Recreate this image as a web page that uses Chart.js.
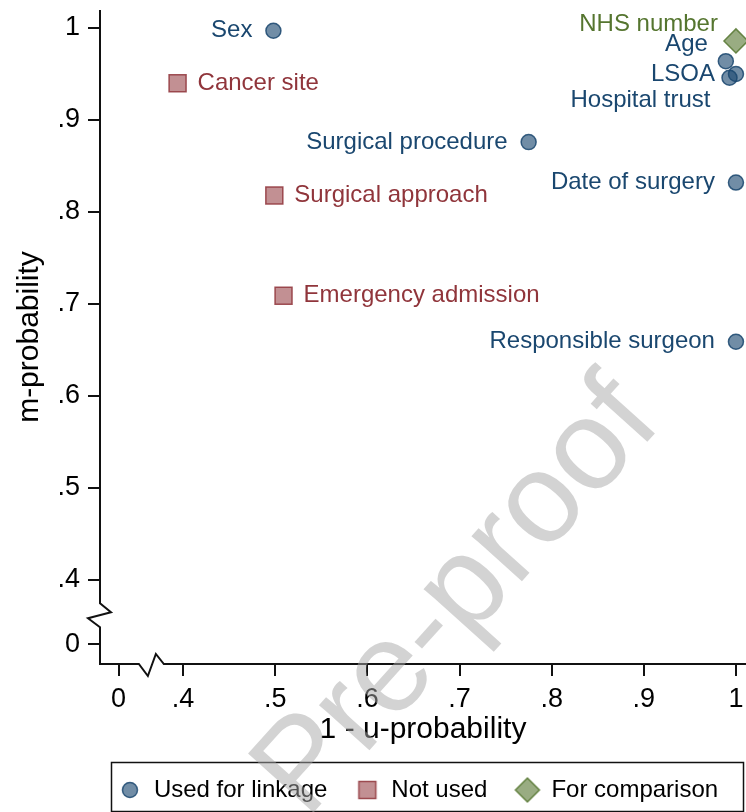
<!DOCTYPE html>
<html>
<head>
<meta charset="utf-8">
<script src="https://cdn.jsdelivr.net/npm/chart.js@4/dist/chart.umd.min.js"></script>
<style>
  html, body { margin: 0; padding: 0; background: #fff; }
  canvas { display: block; }
</style>
</head>
<body>
<canvas id="chart" width="746" height="812"></canvas>
<script>
// Used for linkage
const linkedNames = ["Sex", "Age", "LSOA", "Hospital trust", "Surgical procedure", "Date of surgery", "Responsible surgeon"];
const linkedU = [0.498, 0.989, 1.0, 0.993, 0.775, 1.0, 1.0];
const linkedM = [0.997, 0.964, 0.950, 0.946, 0.876, 0.832, 0.659];
const linkedPos = [9, 10, 9, 8, 9, 9, 9];

// Not used
const unusedNames = ["Cancer site", "Surgical approach", "Emergency admission"];
const unusedU = [0.394, 0.499, 0.509];
const unusedM = [0.940, 0.818, 0.709];
const unusedPos = [3, 3, 3];

// For comparison
const compareNames = ["NHS number"];
const compareU = [1.0];
const compareM = [0.986];
const comparePos = [10];

// broken axes: the "0" tick is drawn just below .4
const xTicks = [0.33, 0.4, 0.5, 0.6, 0.7, 0.8, 0.9, 1];
const xTickLabels = ["0", ".4", ".5", ".6", ".7", ".8", ".9", "1"];
const yTicks = [0.33, 0.4, 0.5, 0.6, 0.7, 0.8, 0.9, 1];
const yTickLabels = ["0", ".4", ".5", ".6", ".7", ".8", ".9", "1"];
const breakAt = 0.365;

const family = "'Liberation Sans', Arial, Helvetica, sans-serif";

const blue = "#1a476f", red = "#90353b", green = "#55752f";
const markers = [
  { style: "circle", radius: 7.5, fill: "rgba(26,71,111,0.62)", stroke: "rgba(26,71,111,0.85)" },
  { style: "rect", radius: 12, fill: "rgba(144,53,59,0.55)", stroke: "rgba(144,53,59,0.85)" },
  { style: "rectRot", radius: 12, fill: "rgba(85,117,47,0.6)", stroke: "rgba(85,117,47,0.85)" },
];

// label offsets by clock position (Stata style)
const clock = {
  3: { dx: 20, dy: 0, align: "left" },
  8: { dx: -19, dy: 23, align: "right" },
  9: { dx: -21, dy: 0, align: "right" },
  10: { dx: -18, dy: -17, align: "right" },
};

const toPoints = (us, ms) => us.map((u, i) => ({ x: u, y: ms[i] }));

// small canvas so the legend keys keep the same sizes as the plot markers
function markerImage(m) {
  const c = document.createElement("canvas");
  c.width = c.height = 30;
  const g = c.getContext("2d");
  g.fillStyle = m.fill;
  g.strokeStyle = m.stroke;
  g.lineWidth = 1.5;
  Chart.helpers.drawPoint(g, { pointStyle: m.style, radius: m.radius, borderWidth: 1.5, rotation: 0 }, 15, 15);
  return c;
}

const pointLabels = {
  id: "pointLabels",
  afterDatasetsDraw(chart) {
    const ctx = chart.ctx;
    ctx.save();
    ctx.font = "24px " + family;
    ctx.textBaseline = "middle";
    chart.data.datasets.forEach((ds, i) => {
      chart.getDatasetMeta(i).data.forEach((pt, j) => {
        const off = clock[ds.labelPos[j]];
        ctx.fillStyle = ds.labelColor;
        ctx.textAlign = off.align;
        ctx.fillText(ds.names[j], pt.x + off.dx, pt.y + off.dy);
      });
    });
    ctx.restore();
  },
};

const decorations = {
  id: "decorations",
  beforeDraw(chart) {
    // centre the legend row under the plot region, not the whole canvas
    const lg = chart.legend, ca = chart.chartArea;
    const shift = (ca.left + ca.right) / 2 - 5 - (lg.left + lg.right) / 2;
    lg.left += shift;
    lg.right += shift;
  },
  afterDraw(chart) {
    const { ctx, chartArea, scales, legend } = chart;
    const xb = scales.x.getPixelForValue(breakAt);
    const yb = scales.y.getPixelForValue(breakAt);
    const left = chartArea.left, bottom = chartArea.bottom;
    ctx.save();
    ctx.strokeStyle = "#111";
    ctx.lineWidth = 2;
    // y axis with zigzag
    ctx.beginPath();
    ctx.moveTo(left, chartArea.top);
    ctx.lineTo(left, yb - 9);
    ctx.lineTo(left + 11, yb);
    ctx.lineTo(left - 12, yb + 6);
    ctx.lineTo(left, yb + 15);
    ctx.lineTo(left, bottom);
    // x axis with zigzag
    ctx.lineTo(xb - 12, bottom);
    ctx.lineTo(xb - 3, bottom + 12);
    ctx.lineTo(xb + 5, bottom - 10);
    ctx.lineTo(xb + 13, bottom);
    ctx.lineTo(chartArea.right, bottom);
    ctx.stroke();

    // legend frame
    ctx.lineWidth = 1.5;
    ctx.strokeRect(left + 11.5, legend.top + 12.5, chartArea.right - left - 14, legend.bottom - legend.top - 13);

    // watermark, translucent grey over everything
    ctx.translate(485, 622);
    ctx.rotate(-48 * Math.PI / 180);
    ctx.font = "128px " + family;
    ctx.fillStyle = "rgba(168,168,168,0.5)";
    ctx.textAlign = "center";
    ctx.textBaseline = "alphabetic";
    ctx.fillText("Pre-proof", 0, 0);
    ctx.restore();
  },
};

const legendKeys = markers.map(markerImage);

new Chart(document.getElementById("chart"), {
  type: "scatter",
  data: {
    datasets: [
      {
        label: "Used for linkage",
        data: toPoints(linkedU, linkedM),
        names: linkedNames,
        labelPos: linkedPos,
        labelColor: blue,
        pointStyle: markers[0].style,
        pointRadius: markers[0].radius,
        backgroundColor: markers[0].fill,
        borderColor: markers[0].stroke,
        borderWidth: 1.5,
        clip: false,
      },
      {
        label: "Not used",
        data: toPoints(unusedU, unusedM),
        names: unusedNames,
        labelPos: unusedPos,
        labelColor: red,
        pointStyle: markers[1].style,
        pointRadius: markers[1].radius,
        backgroundColor: markers[1].fill,
        borderColor: markers[1].stroke,
        borderWidth: 1.5,
        clip: false,
      },
      {
        label: "For comparison",
        data: toPoints(compareU, compareM),
        names: compareNames,
        labelPos: comparePos,
        labelColor: green,
        pointStyle: markers[2].style,
        pointRadius: markers[2].radius,
        backgroundColor: markers[2].fill,
        borderColor: markers[2].stroke,
        borderWidth: 1.5,
        clip: false,
      },
    ],
  },
  options: {
    responsive: false,
    animation: false,
    events: [],
    layout: { autoPadding: false, padding: { top: 10 } },
    scales: {
      x: {
        type: "linear",
        min: 0.3098,
        max: 1.0109,
        afterBuildTicks: (s) => { s.ticks = xTicks.map((v) => ({ value: v })); },
        afterFit: (s) => { s.height = 86; s.paddingLeft = 0; s.paddingRight = 0; },
        ticks: {
          callback: (v, i) => xTickLabels[i],
          color: "#000",
          font: { size: 27, family },
          padding: 7,
          maxRotation: 0,
          autoSkip: false,
        },
        grid: { drawOnChartArea: false, color: "#111", lineWidth: 2, tickLength: 12 },
        border: { display: false },
        title: {
          display: true,
          text: "1 - u-probability",
          color: "#000",
          font: { size: 30, family },
          padding: { top: 0, bottom: 2 },
        },
      },
      y: {
        type: "linear",
        min: 0.3087,
        max: 1.0196,
        afterBuildTicks: (s) => { s.ticks = yTicks.map((v) => ({ value: v })); },
        afterFit: (s) => { s.width = 100; s.paddingTop = 0; s.paddingBottom = 0; },
        ticks: {
          callback: (v, i) => yTickLabels[i],
          color: "#000",
          font: { size: 27, family },
          padding: 8,
          autoSkip: false,
        },
        grid: { drawOnChartArea: false, color: "#111", lineWidth: 2, tickLength: 12 },
        border: { display: false },
        title: {
          display: true,
          text: "m-probability",
          color: "#000",
          font: { size: 30, family },
          padding: { top: 12, bottom: 0 },
        },
      },
    },
    plugins: {
      tooltip: { enabled: false },
      legend: {
        position: "bottom",
        fullSize: true,
        labels: {
          usePointStyle: true,
          boxHeight: 14,
          boxWidth: 24,
          padding: 28,
          color: "#000",
          font: { size: 24, family },
          generateLabels: (chart) =>
            Chart.defaults.plugins.legend.labels.generateLabels(chart).map((item, i) => ({
              ...item,
              pointStyle: legendKeys[i],
            })),
        },
      },
    },
  },
  plugins: [pointLabels, decorations],
});
</script>
</body>
</html>
